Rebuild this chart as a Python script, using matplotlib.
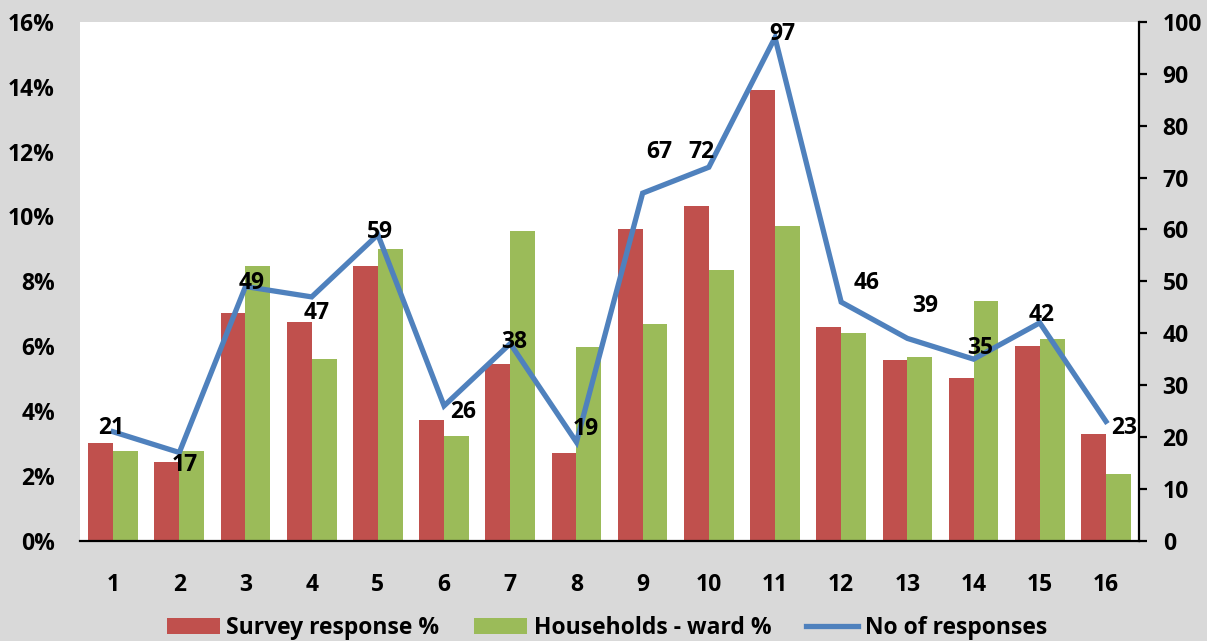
import matplotlib
matplotlib.use("Agg")
import matplotlib.pyplot as plt
import numpy as np
from matplotlib.ticker import FuncFormatter, MultipleLocator

categories = ["1", "2", "3", "4", "5", "6", "7", "8", "9", "10", "11", "12", "13", "14", "15", "16"]
survey_pct = [3.02, 2.43, 7.03, 6.75, 8.46, 3.72, 5.45, 2.71, 9.62, 10.33, 13.91, 6.60, 5.58, 5.02, 6.01, 3.29]
households_pct = [2.77, 2.77, 8.48, 5.61, 9.00, 3.23, 9.56, 5.98, 6.69, 8.35, 9.71, 6.41, 5.67, 7.40, 6.23, 2.06]
responses = [21, 17, 49, 47, 59, 26, 38, 19, 67, 72, 97, 46, 39, 35, 42, 23]

# label offsets in pixels (dx right, dy down) -- styling only
label_offsets = [(-2, -4), (6, 12), (6, -4), (5, 16), (2, -3), (19, 6), (4, -2), (9, -13),
                 (17, -41), (-7, -15), (7, -4), (25, -19), (18, -32), (7, -11), (2, -8), (18, 7)]

RED = "#c0504d"
GREEN = "#9bbb59"
BLUE = "#4f81bd"
BG = "#d9d9d9"

plt.rcParams['font.family'] = ['Open Sans', 'DejaVu Sans']
plt.rcParams['font.weight'] = 'bold'
FS = 16.5

fig = plt.figure(figsize=(12.07, 6.41), dpi=100, facecolor=BG)
ax = fig.add_axes([0.0663, 0.1565, 0.9437 - 0.0663, 0.9657 - 0.1565])
ax.set_facecolor("white")
x = np.arange(len(categories))
w = 0.375
ax.bar(x - w / 2, survey_pct, width=w, color=RED, label="Survey response %", zorder=2)
ax.bar(x + w / 2, households_pct, width=w, color=GREEN, label="Households - ward %", zorder=2)
ax.set_xlim(-0.5, len(categories) - 0.5)
ax.set_ylim(0, 16)
ax.yaxis.set_major_locator(MultipleLocator(2))
ax.yaxis.set_major_formatter(FuncFormatter(lambda v, p: f"{v:.0f}%"))
ax.set_xticks(x)
ax.set_xticklabels(categories)
ax.tick_params(axis='x', length=0, pad=23, labelsize=FS)
ax.tick_params(axis='y', length=0, pad=18, labelsize=FS)
for s in ["top", "left", "right"]:
    ax.spines[s].set_visible(False)
ax.spines["bottom"].set_color("black")
ax.spines["bottom"].set_linewidth(1.6)

ax2 = ax.twinx()
ax2.plot(x, responses, color=BLUE, lw=3.8, label="No of responses", zorder=3, solid_joinstyle='miter')
ax2.set_ylim(0, 100)
ax2.yaxis.set_major_locator(MultipleLocator(10))
ax2.tick_params(axis='y', direction='out', length=6, width=1.6, pad=11, labelsize=FS)
for s in ["top", "left", "bottom"]:
    ax2.spines[s].set_visible(False)
ax2.spines["right"].set_color("black")
ax2.spines["right"].set_linewidth(1.6)

for a in (ax, ax2):
    for lbl in a.get_yticklabels():
        lbl.set_verticalalignment('center_baseline')

for i, v in enumerate(responses):
    dx, dy = label_offsets[i]
    ax2.annotate(str(v), (x[i], v), xytext=(dx, -dy), textcoords='offset pixels',
                 ha='center', va='center', fontsize=FS, fontweight='bold', zorder=5)

h1, l1 = ax.get_legend_handles_labels()
h2, l2 = ax2.get_legend_handles_labels()
fig.legend(h1 + h2, l1 + l2, loc='center', bbox_to_anchor=(0.503, 0.02), ncol=3,
           frameon=False, fontsize=FS, handlelength=2.3, handleheight=0.7,
           handletextpad=0.3, columnspacing=1.5)

fig.savefig("out.png", dpi=100, facecolor=BG)
